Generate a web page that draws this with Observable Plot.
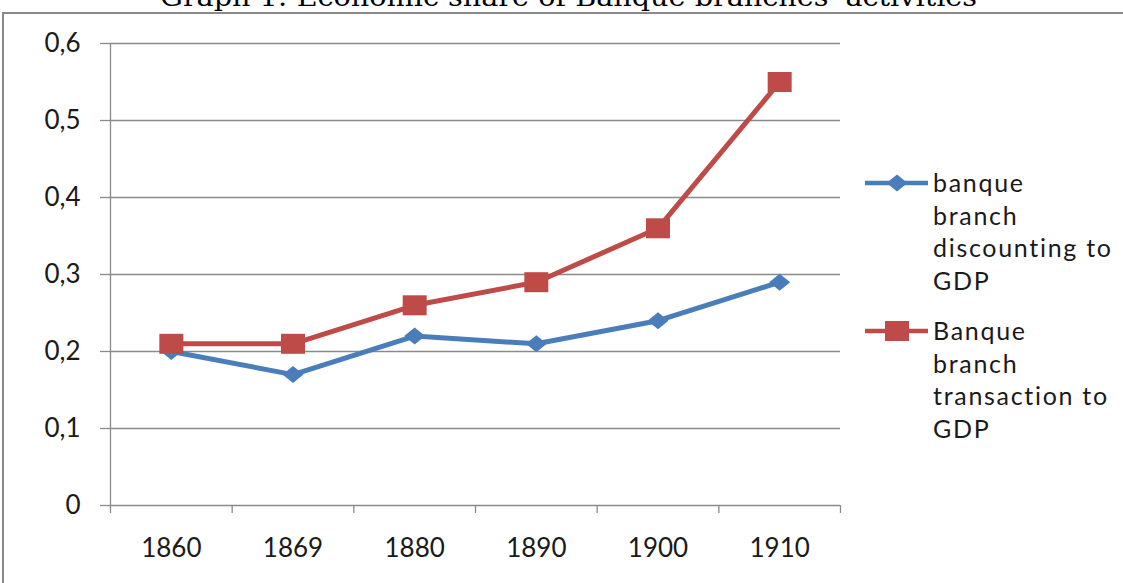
<!DOCTYPE html>
<html>
<head>
<meta charset="utf-8">
<script src="https://cdn.jsdelivr.net/npm/d3@7"></script>
<script src="https://cdn.jsdelivr.net/npm/@observablehq/plot@0.6"></script>
<style>
  html, body { margin: 0; padding: 0; background: #fff; overflow: hidden; width: 1123px; height: 583px; }
  #frame { position: absolute; left: 2px; top: 12px; width: 1300px; height: 800px; border: 2px solid #8a8a8a; box-sizing: border-box; }
  #title { position: absolute; left: 0; top: 0; }
  #chart { position: absolute; left: 0; top: 0; }
  #legend { position: absolute; left: 862px; top: 166px; font-family: Lato, sans-serif; font-size: 25px; color: #1a1a1a; }
  .item { position: relative; height: 148px; }
  .item svg { position: absolute; left: 0; top: 0; }
  .item .txt { position: absolute; left: 71px; top: 0px; line-height: 32.5px; letter-spacing: 1.7px; white-space: nowrap; }
</style>
</head>
<body>
<div id="frame"></div>
<div id="chart"></div>
<svg id="title" width="1123" height="20"></svg>
<div id="legend"></div>
<script>
const titleText = "Graph 1: Economic share of Banque branches' activities";
const years = ["1860", "1869", "1880", "1890", "1900", "1910"];
const discounting = [0.20, 0.17, 0.22, 0.21, 0.24, 0.29];
const transaction = [0.21, 0.21, 0.26, 0.29, 0.36, 0.55];
const seriesNames = ["banque branch discounting to GDP", "Banque branch transaction to GDP"];
const legendLines = [["banque", "branch", "discounting to", "GDP"], ["Banque", "branch", "transaction to", "GDP"]];
const yTicks = [0, 0.1, 0.2, 0.3, 0.4, 0.5, 0.6];
const colors = ["#4A7EBB", "#BE4B48"];

const diamondSym = { draw(ctx) { ctx.moveTo(-10.5, 0); ctx.lineTo(0, -8.5); ctx.lineTo(10.5, 0); ctx.lineTo(0, 8.5); ctx.closePath(); } };
const squareSym = { draw(ctx) { ctx.moveTo(-12, -10); ctx.lineTo(12, -10); ctx.lineTo(12, 10); ctx.lineTo(-12, 10); ctx.closePath(); } };
const symbols = [diamondSym, squareSym];

const rowsA = years.map((y, i) => ({ i, year: y, value: discounting[i], series: seriesNames[0] }));
const rowsB = years.map((y, i) => ({ i, year: y, value: transaction[i], series: seriesNames[1] }));
const idx = years.map((_, i) => i);
const bounds = years.map((_, i) => i - 0.5).concat([years.length - 0.5]);
const gray = "#8a8a8a";

const chart = Plot.plot({
  width: 1123,
  height: 583,
  marginLeft: 110,
  marginRight: 283,
  marginTop: 43,
  marginBottom: 78,
  style: { fontFamily: "Lato, sans-serif", fontSize: "26px", color: "#1a1a1a", background: "transparent" },
  x: { type: "linear", domain: [-0.5, years.length - 0.5] },
  y: { domain: [0, 0.6] },
  marks: [
    Plot.gridY(yTicks, { stroke: gray, strokeOpacity: 1, strokeWidth: 1.3 }),
    Plot.axisY(yTicks, { tickSize: 10, tickPadding: 20, stroke: gray, strokeWidth: 1.3, tickFormat: d => d3.format(".1~f")(d).replace(".", ","), label: null }),
    Plot.ruleX([-0.5], { stroke: gray, strokeWidth: 1.3 }),
    Plot.axisX(bounds, { tickSize: 8, tickFormat: () => "", stroke: gray, strokeWidth: 1.3, label: null }),
    Plot.axisX(idx, { tickSize: 0, tickPadding: 33, tickFormat: i => years[i], label: null }),
    Plot.line(rowsA, { x: "i", y: "value", stroke: colors[0], strokeWidth: 5 }),
    Plot.dot(rowsA, { x: "i", y: "value", symbol: () => symbols[0], fill: colors[0], stroke: "none" }),
    Plot.line(rowsB, { x: "i", y: "value", stroke: colors[1], strokeWidth: 5 }),
    Plot.dot(rowsB, { x: "i", y: "value", symbol: () => symbols[1], fill: colors[1], stroke: "none" })
  ]
});
document.getElementById("chart").appendChild(chart);

// Title (clipped at the top, as in the reference)
const t = d3.select("#title");
t.append("text")
  .attr("x", 568.5).attr("y", 6)
  .attr("text-anchor", "middle")
  .attr("textLength", 817)
  .attr("lengthAdjust", "spacingAndGlyphs")
  .style("font-family", "'DejaVu Serif', serif")
  .style("font-size", "26px")
  .style("fill", "#000")
  .text(titleText);

// Legend
const legend = d3.select("#legend");
seriesNames.forEach((name, k) => {
  const item = legend.append("div").attr("class", "item");
  const sw = item.append("svg").attr("width", 70).attr("height", 34);
  sw.append("line").attr("x1", 3).attr("x2", 66).attr("y1", 17).attr("y2", 17)
    .attr("stroke", colors[k]).attr("stroke-width", 4.5);
  const p = d3.path(); symbols[k].draw(p);
  sw.append("path").attr("d", p.toString()).attr("transform", "translate(35,17)").attr("fill", colors[k]);
  item.append("div").attr("class", "txt").attr("title", name).html(legendLines[k].join("<br>"));
});
</script>
</body>
</html>
